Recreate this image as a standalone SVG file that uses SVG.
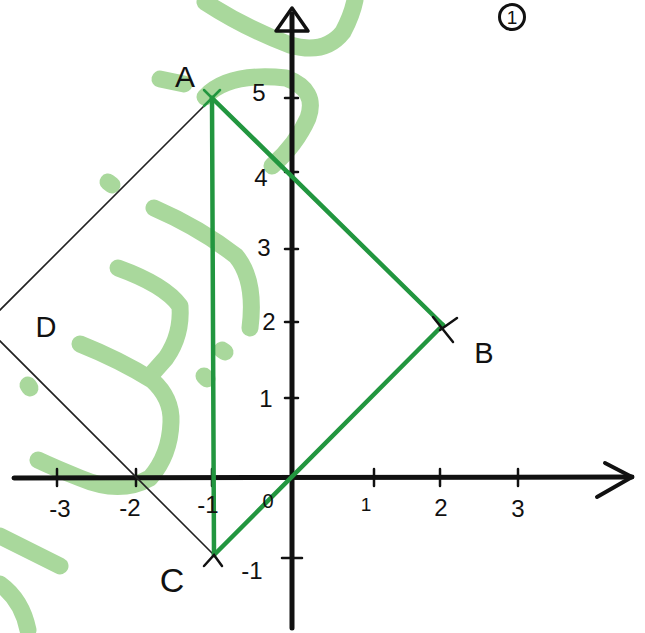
<svg xmlns="http://www.w3.org/2000/svg" width="645" height="633" viewBox="0 0 645 633">
<style>
.wm{fill:none;stroke:#a9d89c;stroke-width:17;stroke-linecap:round;stroke-linejoin:round}
.ax{fill:none;stroke:#111;stroke-width:5;stroke-linecap:round;stroke-linejoin:round}
.tk{fill:none;stroke:#111;stroke-width:2.5;stroke-linecap:round}
.gr{fill:none;stroke:#22963f;stroke-width:4.5;stroke-linecap:round;stroke-linejoin:round}
.thin{fill:none;stroke:#222;stroke-width:1.6}
.lb{font-family:"Liberation Sans",Arial,sans-serif;fill:#111;text-anchor:middle}
</style>
<rect width="645" height="633" fill="#fff"/>
<g id="watermark">
<path class="wm" d="M205 2 Q245 28 290 45 Q325 55 343 32 Q352 15 355 0"/>
<path class="wm" d="M160 79 L184 84"/>
<path class="wm" d="M205 97 Q228 72 286 78 Q318 90 308 118 Q296 145 272 166"/>
<path class="wm" d="M108 182 L112 185"/>
<path class="wm" d="M154 208 Q200 228 236 256 Q256 280 250 328"/>
<path class="wm" d="M118 268 Q165 285 180 306 Q182 335 166 358 L150 376"/>
<path class="wm" d="M80 344 Q120 360 152 380 Q172 398 171 422 Q170 455 150 478 Q120 495 80 478 Q55 468 38 460"/>
<path class="wm" d="M222 350 L225 352"/>
<path class="wm" d="M204 376 L207 379"/>
<path class="wm" d="M28 385 L30 388"/>
<path class="wm" d="M0 536 L60 566"/>
<path class="wm" d="M0 584 Q22 600 28 630"/>
</g>
<g id="axes">
<path class="ax" d="M292 628 L292 14"/>
<path class="ax" d="M276 31 L292 8 L308 31 Z" style="stroke-width:3.5"/>
<path class="ax" d="M14 478 L632 477"/>
<path class="ax" d="M605 463 L632 477 L597 497" style="stroke-width:4"/>
<path class="tk" d="M57 469 V486 M136 469 V486 M212 469 V486 M374 469 V486 M440 469 V486 M518 469 V486"/>
<path class="tk" d="M285 98 H298 M285 172 H298 M285 249 H298 M285 322 H298 M285 398 H298 M282 558 H302"/>
</g>
<g id="connectors">
<polyline class="thin" points="212,98 -15.5,325.5 214,555"/>
<path class="gr" d="M212 98 L214 555"/>
<path class="gr" d="M212 98 L443 325"/>
<path class="gr" d="M443 325 L214 555"/>
<path class="gr" d="M204 90 L220 106 M220 90 L204 106" style="stroke-width:2.5"/>
<path class="tk" d="M433 317 L453 342 M457 318 L440 330"/>
<path class="tk" d="M204 566 L214 555 L222 566"/>
</g>
<g id="label-A"><text class="lb" x="185" y="87" font-size="30">A</text></g>
<g id="label-B"><text class="lb" x="484" y="363" font-size="29">B</text></g>
<g id="label-C"><text class="lb" x="172" y="592" font-size="34">C</text></g>
<g id="label-D"><text class="lb" x="46" y="337" font-size="29">D</text></g>
<g id="label-1circle">
<circle cx="512" cy="17" r="12.5" fill="none" stroke="#111" stroke-width="3"/>
<text class="lb" x="512" y="24" font-size="19">1</text>
</g>
<g id="y-labels">
<text class="lb" x="259" y="101" font-size="24">5</text>
<text class="lb" x="261" y="186" font-size="24">4</text>
<text class="lb" x="264" y="256" font-size="24">3</text>
<text class="lb" x="269" y="330" font-size="24">2</text>
<text class="lb" x="266" y="407" font-size="24">1</text>
<text class="lb" x="252" y="579" font-size="24">-1</text>
</g>
<g id="x-labels">
<text class="lb" x="60" y="517" font-size="24">-3</text>
<text class="lb" x="130" y="516" font-size="24">-2</text>
<text class="lb" x="208" y="513" font-size="24">-1</text>
<text class="lb" x="268" y="508" font-size="20">0</text>
<text class="lb" x="366" y="511" font-size="19">1</text>
<text class="lb" x="441" y="516" font-size="24">2</text>
<text class="lb" x="518" y="517" font-size="24">3</text>
</g>
</svg>
